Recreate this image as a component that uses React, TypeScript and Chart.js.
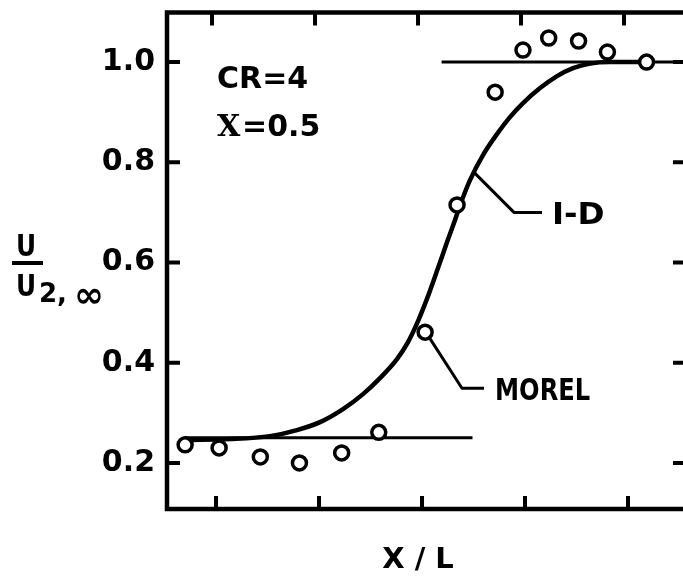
import React, { useEffect, useRef } from "react";
import { Chart, registerables } from "chart.js";

Chart.register(...registerables);

// ---- data (X/L in tick units, U/U2,inf) ----
const xTickValues = [0, 1, 2, 3, 4];
const yTickValues = [0.2, 0.4, 0.6, 0.8, 1.0];

const moreLX = [-0.3, 0.03, 0.43, 0.81, 1.22, 1.58, 2.03, 2.34, 2.71, 2.98, 3.23, 3.52, 3.8, 4.18];
const moreLY = [0.236, 0.23, 0.212, 0.2, 0.22, 0.261, 0.461, 0.715, 0.94, 1.024, 1.048, 1.042, 1.02, 1.0];

const oneDX = [-0.301, 0.136, 0.524, 0.786, 1.01, 1.233, 1.427, 1.592, 1.757, 1.864, 1.961, 2.058, 2.155, 2.243, 2.32, 2.388, 2.466, 2.592, 2.728, 2.854, 2.981, 3.146, 3.311, 3.466, 3.631, 3.825, 4.117];
const oneDY = [0.2455, 0.2475, 0.2535, 0.2655, 0.2814, 0.3074, 0.3373, 0.3693, 0.4072, 0.4411, 0.483, 0.5329, 0.5888, 0.6407, 0.6846, 0.7246, 0.7645, 0.8144, 0.8563, 0.8902, 0.9182, 0.9481, 0.9721, 0.988, 0.997, 1.0, 1.0];

const lowerLevelX = [-0.3, 2.49];
const lowerLevelY = [0.25, 0.25];
const upperLevelX = [2.19, 4.6];
const upperLevelY = [1.0, 1.0];

const oneDLeaderX = [2.505, 2.893, 3.165];
const oneDLeaderY = [0.78, 0.7, 0.7];
const morelLeaderX = [2.068, 2.388, 2.602];
const morelLeaderY = [0.451, 0.349, 0.349];

const xMin = -0.476;
const xMax = 4.563;
const yMin = 0.108;
const yMax = 1.099;

const FONT = "DejaVu Sans";

const pts = (xs: number[], ys: number[]) => xs.map((x, i) => ({ x, y: ys[i] }));

function drawText(
  ctx: CanvasRenderingContext2D,
  text: string,
  x: number,
  capCenterY: number,
  size: number,
  align: CanvasTextAlign,
  scaleX = 1,
  family = FONT
) {
  ctx.save();
  ctx.font = `bold ${size}px "${family}"`;
  ctx.fillStyle = "#000";
  ctx.textBaseline = "alphabetic";
  ctx.textAlign = align;
  ctx.translate(x, capCenterY + 0.3645 * size);
  ctx.scale(scaleX, 1);
  ctx.fillText(text, 0, 0);
  ctx.restore();
}

const framePlugin = {
  id: "frame",
  afterDraw(chart: any) {
    const { ctx, chartArea } = chart;
    const xs = chart.scales.x;
    const ys = chart.scales.y;
    const { left, right, top, bottom } = chartArea;
    ctx.save();
    ctx.strokeStyle = "#000";
    ctx.lineWidth = 4.5;
    ctx.lineCap = "square";
    ctx.strokeRect(left, top, right - left, bottom - top);
    const tl = 13;
    ctx.lineWidth = 4;
    ctx.lineCap = "butt";
    ctx.beginPath();
    xTickValues.forEach((v) => {
      const px = xs.getPixelForValue(v);
      ctx.moveTo(px, bottom);
      ctx.lineTo(px, bottom - tl);
      ctx.moveTo(px - 4, top);
      ctx.lineTo(px - 4, top + tl);
    });
    yTickValues.forEach((v) => {
      const py = ys.getPixelForValue(v);
      ctx.moveTo(left, py);
      ctx.lineTo(left + tl, py);
      ctx.moveTo(right, py);
      ctx.lineTo(right - tl, py);
    });
    ctx.stroke();

    // annotations
    drawText(ctx, "CR=4", xs.getPixelForValue(0.01), ys.getPixelForValue(0.97), 30, "left");
    drawText(ctx, "X", xs.getPixelForValue(0.01), ys.getPixelForValue(0.874), 30, "left", 1, "DejaVu Serif");
    drawText(ctx, "=0.5", xs.getPixelForValue(0.01) + 25, ys.getPixelForValue(0.874), 30, "left");
    drawText(ctx, "I-D", xs.getPixelForValue(3.262), ys.getPixelForValue(0.7), 31, "left", 1.05);
    drawText(ctx, "MOREL", xs.getPixelForValue(2.709), ys.getPixelForValue(0.349), 31, "left", 0.78);

    // axis titles
    drawText(ctx, "X / L", 418, 557, 29, "center");
    drawText(ctx, "U", 26, 245, 31, "center", 0.8);
    ctx.fillStyle = "#000";
    ctx.fillRect(12, 261, 31, 4);
    drawText(ctx, "U", 26, 285, 31, "center", 0.8);
    drawText(ctx, "2,", 39, 293, 26, "left");
    drawText(ctx, "\u221E", 74, 294, 36, "left", 1.0);
    ctx.restore();
  },
};

export default function App() {
  const ref = useRef<HTMLCanvasElement | null>(null);

  useEffect(() => {
    if (!ref.current) return;
    const lineDs = (data: any[], width: number, extra: any = {}) => ({
      data,
      showLine: true,
      borderColor: "#000",
      borderWidth: width,
      pointRadius: 0,
      fill: false,
      order: 2,
      ...extra,
    });
    const chart = new Chart(ref.current, {
      type: "scatter",
      data: {
        datasets: [
          {
            label: "MOREL",
            data: pts(moreLX, moreLY),
            pointStyle: "circle",
            pointRadius: 7,
            pointBorderWidth: 3.5,
            pointBorderColor: "#000",
            pointBackgroundColor: "#fff",
            showLine: false,
            order: 0,
          } as any,
          lineDs(pts(oneDX, oneDY), 4.5, { label: "1-D", cubicInterpolationMode: "monotone", order: 1 }),
          lineDs(pts(lowerLevelX, lowerLevelY), 3, { label: "lower" }),
          lineDs(pts(upperLevelX, upperLevelY), 3, { label: "upper" }),
          lineDs(pts(oneDLeaderX, oneDLeaderY), 3, { label: "leader1", borderJoinStyle: "round" }),
          lineDs(pts(morelLeaderX, morelLeaderY), 3, { label: "leader2", borderJoinStyle: "round" }),
        ],
      },
      options: {
        responsive: false,
        animation: false,
        events: [],
        layout: { padding: { top: 12.5, right: 14, left: 0, bottom: 0 } },
        plugins: {
          legend: { display: false },
          tooltip: { enabled: false },
        },
        scales: {
          x: {
            type: "linear",
            min: xMin,
            max: xMax,
            afterBuildTicks: (s: any) => {
              s.ticks = xTickValues.map((value) => ({ value }));
            },
            afterFit: (s: any) => {
              s.height = 67;
              s.paddingLeft = 0;
              s.paddingRight = 0;
            },
            ticks: { display: false },
            grid: { display: false, drawTicks: false },
            border: { display: false },
          },
          y: {
            type: "linear",
            min: yMin,
            max: yMax,
            afterBuildTicks: (s: any) => {
              s.ticks = yTickValues.map((value) => ({ value }));
            },
            afterFit: (s: any) => {
              s.width = 167;
              s.paddingTop = 0;
              s.paddingBottom = 0;
            },
            ticks: {
              padding: 12,
              color: "#000",
              font: { family: FONT, weight: "bold", size: 30 },
              callback: (v: any) => Number(v).toFixed(1),
            },
            grid: { display: false, drawTicks: false },
            border: { display: false },
          },
        },
      } as any,
      plugins: [framePlugin],
    });
    return () => chart.destroy();
  }, []);

  return (
    <div
      style={{
        position: "fixed",
        left: 0,
        top: 0,
        width: 683,
        height: 576,
        overflow: "hidden",
        background: "#fff",
      }}
    >
      <canvas ref={ref} width={700} height={576} style={{ display: "block" }} />
    </div>
  );
}
